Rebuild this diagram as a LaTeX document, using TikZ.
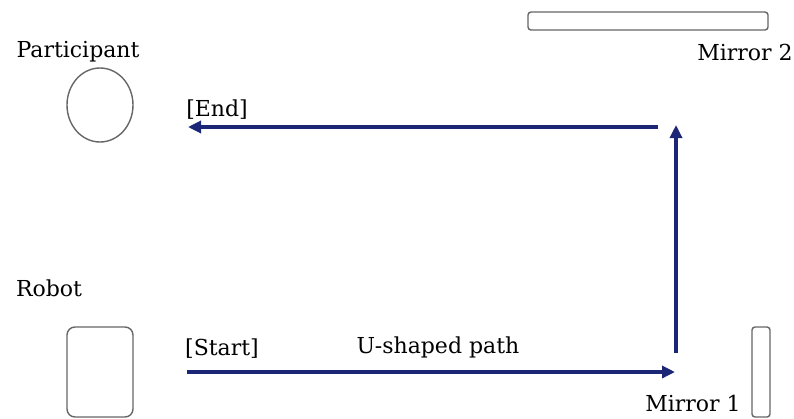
\documentclass[tikz,border=0pt]{standalone}
\usepackage{fontspec}
\setmainfont{DejaVu Serif}
\usetikzlibrary{arrows.meta,positioning,shapes.geometric}
\definecolor{pathblue}{RGB}{28,38,118}

\begin{document}
\begin{tikzpicture}[x=1pt,y=-1pt,->,>={Triangle[length=13pt,width=12pt]},semithick,
                    font=\fontsize{22}{25}\selectfont]

  \tikzstyle{object}=[draw=black!60,line width=1.4pt,inner sep=0pt]
  \tikzstyle{route}=[draw=pathblue,line width=3.2pt]

  \useasboundingbox (0,0) rectangle (794,418);

  \node[object,ellipse,minimum width=66pt,minimum height=74pt] (PART) at (100,105) {};
  \node[object,rectangle,rounded corners=8pt,minimum width=66pt,minimum height=90pt] (ROB) at (100,372) {};
  \node[object,rectangle,rounded corners=3pt,minimum width=240pt,minimum height=18pt] (MIR2) at (648,21) {};
  \node[object,rectangle,rounded corners=3pt,minimum width=18pt,minimum height=90pt] (MIR1) at (761,372) {};

  \node (PARTL) at (78,52)   {Participant};
  \node (ROBL)  at (49,288)  {Robot};
  \node (MIR2L) at (745,52)  {Mirror 2};
  \node (MIR1L) at (693,403) {Mirror 1};

  \coordinate (start) at (187,372);
  \coordinate (turn)  at (675,372);
  \coordinate (up0)   at (676,353);
  \coordinate (up1)   at (676,125);
  \coordinate (back)  at (658,127);
  \coordinate (end)   at (188,127);

  \node (STL) at (222,349) {[Start]};
  \node (ENL) at (217,110) {[End]};
  \node (UPL) at (438,347) {U-shaped path};

  \path
  (start) edge [route] (turn)
  (up0)   edge [route] (up1)
  (back)  edge [route] (end)
  ;
\end{tikzpicture}
\end{document}
